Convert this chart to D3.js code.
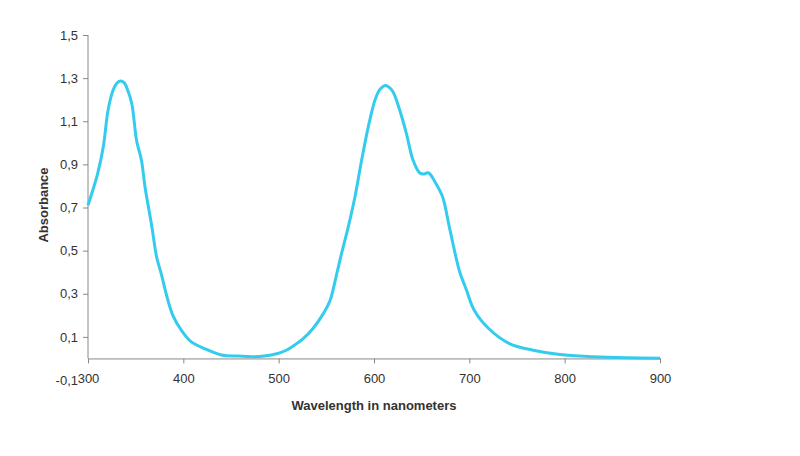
<!DOCTYPE html>
<html lang="en">
	<head>
		<meta charset="utf-8">
		<title>Absorbance spectrum</title>
		<script type="text/javascript" src="https://cdn.jsdelivr.net/npm/d3@7"></script>
		<style type="text/css">
			body { margin: 0; background: #fff; }
			text { font-family: 'Liberation Sans', Arial, sans-serif; fill: #333; }
		</style>
	</head>
	<body>
		<script type="text/javascript">
			// values
			var wavelength = [300, 305, 310, 316, 321, 326, 330, 334, 338, 342, 346, 351, 356, 360, 367, 372, 377, 382, 389, 398,
				408, 422, 440, 458, 472, 485, 499, 508, 516, 526, 536, 547, 554, 561, 566, 573, 580, 587, 594, 601,
				606, 611, 615, 620, 627, 634, 641, 648, 652, 657, 665, 672, 679, 687, 690, 697, 705, 720, 742, 767,
				795, 830, 865, 900];
			var absorbance = [0.71, 0.78, 0.855, 0.98, 1.15, 1.24, 1.275, 1.287, 1.278, 1.24, 1.18, 1.01, 0.92, 0.79, 0.61, 0.47, 0.39, 0.30, 0.20, 0.13,
				0.078, 0.046, 0.016, 0.011, 0.008, 0.011, 0.023, 0.038, 0.06, 0.093, 0.139, 0.209, 0.27, 0.394, 0.487, 0.61, 0.749, 0.919, 1.074, 1.198,
				1.247, 1.265, 1.26, 1.236, 1.151, 1.043, 0.919, 0.86, 0.855, 0.861, 0.811, 0.749, 0.61, 0.45, 0.40, 0.317, 0.225, 0.14, 0.069, 0.038,
				0.018, 0.008, 0.003, 0.001];
			var xTicks = [300, 400, 500, 600, 700, 800, 900];
			var yTicks = [-0.1, 0.1, 0.3, 0.5, 0.7, 0.9, 1.1, 1.3, 1.5];

			var w = 800;
			var h = 456;
			var svg = d3.select('body').append('svg').attr('width', w).attr('height', h);

			var xScale = d3.scaleLinear().domain([300, 900]).range([88, 660]);
			var yScale = d3.scaleLinear().domain([-0.1, 1.5]).range([380, 35]);
			// comma decimals, plain hyphen for the minus
			var fmt = function(d) { return d3.format('.1f')(d).replace('.', ',').replace('\u2212', '-'); };

			// y axis: line from 0 up, label at -0.1 without a tick
			var yAxis = d3.axisLeft(yScale).tickValues(yTicks).tickFormat(fmt).tickSize(5).tickPadding(5);
			var gy = svg.append('g')
				.attr('transform', 'translate(' + xScale(300) + ',0)')
				.call(yAxis);
			gy.select('.domain').remove();
			gy.selectAll('.tick line').attr('stroke', '#888')
				.filter(function(d) { return d < 0; }).remove();
			gy.selectAll('.tick text').attr('font-size', 13).attr('fill', '#333');
			gy.append('line')
				.attr('x1', 0).attr('x2', 0)
				.attr('y1', yScale(1.5)).attr('y2', yScale(0))
				.attr('stroke', '#888');

			// x axis crossing at 0
			var xAxis = d3.axisBottom(xScale).tickValues(xTicks).tickSize(5).tickPadding(10).tickSizeOuter(0);
			var gx = svg.append('g')
				.attr('transform', 'translate(0,' + yScale(0) + ')')
				.call(xAxis);
			gx.select('.domain').attr('stroke', '#888');
			gx.selectAll('.tick line').attr('stroke', '#888');
			gx.selectAll('.tick text').attr('font-size', 13).attr('fill', '#333');

			var line = d3.line()
				.x(function(d, i) { return xScale(wavelength[i]); })
				.y(function(d) { return yScale(d); })
				.curve(d3.curveCatmullRom.alpha(0.5));

			svg.append('path')
				.datum(absorbance)
				.attr('d', line)
				.attr('fill', 'none')
				.attr('stroke', '#33ccee')
				.attr('stroke-width', 3)
				.attr('stroke-linejoin', 'round');

			svg.append('text')
				.attr('x', 374).attr('y', 410)
				.attr('text-anchor', 'middle')
				.attr('font-size', 13).attr('font-weight', 'bold')
				.text('Wavelength in nanometers');

			svg.append('text')
				.attr('transform', 'translate(48,' + 205 + ') rotate(-90)')
				.attr('text-anchor', 'middle')
				.attr('font-size', 13).attr('font-weight', 'bold')
				.text('Absorbance');
		</script>
	</body>
</html>
